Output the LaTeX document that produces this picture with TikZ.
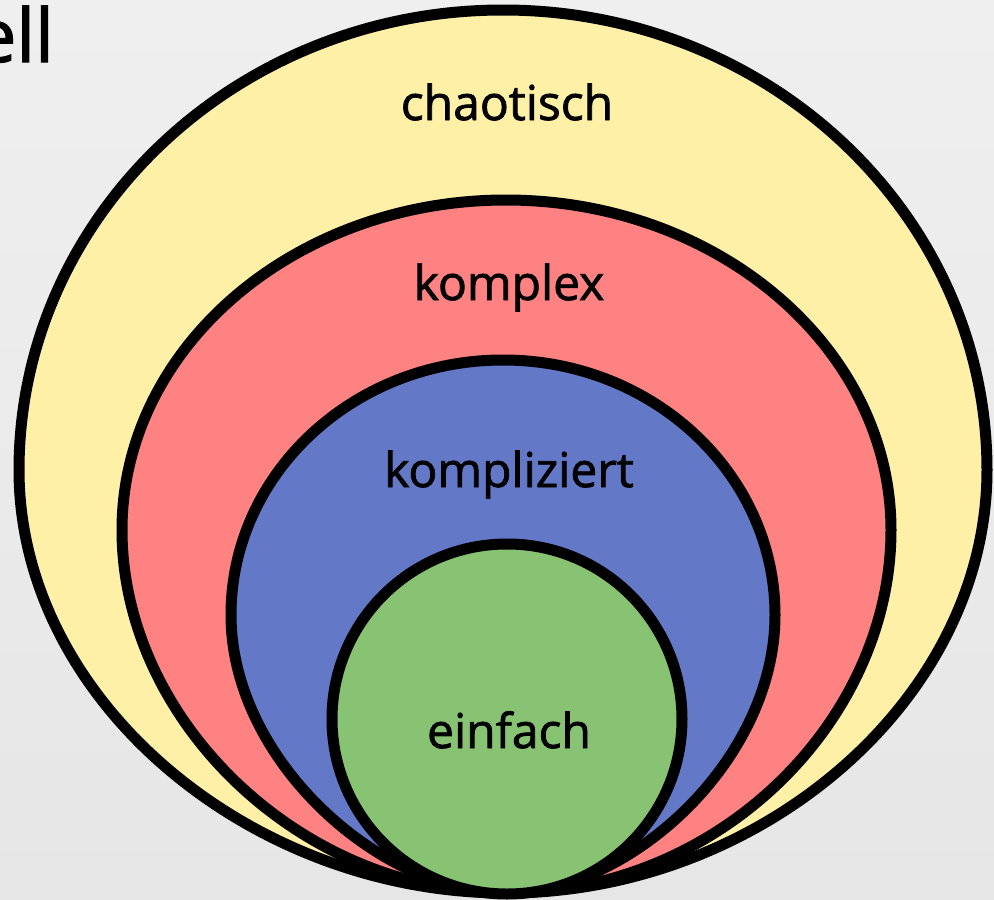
\documentclass[tikz,border=0pt]{standalone}
\usepackage{fontspec}
\setmainfont{Open Sans}
\newfontfamily\handfont[FakeBold=1.6]{Open Sans}
\definecolor{bgtop}{HTML}{EFEFEF}
\definecolor{bgbot}{HTML}{E6E6E6}
\definecolor{yellowfill}{HTML}{FFF0A8}
\definecolor{redfill}{HTML}{FF8282}
\definecolor{bluefill}{HTML}{6478C8}
\definecolor{greenfill}{HTML}{88C374}
\begin{document}
\begin{tikzpicture}[x=1pt,y=-1pt,
  shapeline/.style={draw=black, line width=11pt, line join=round},
  lbl/.style={anchor=base, font=\handfont\fontsize{48}{58}\selectfont, text=black, inner sep=0pt}]
\useasboundingbox (0,0) rectangle (994,900);
\shade[top color=bgtop, bottom color=bgbot] (0,0) rectangle (994,900);
\coordinate (B) at (506,893);
% chaotisch
\draw[shapeline, fill=yellowfill] (B) .. controls (250,893) and (19,700) .. (19,470)
  .. controls (19,216) and (236,10) .. (503,10)
  .. controls (770,10) and (987,216) .. (987,470)
  .. controls (987,700) and (760,893) .. (B) -- cycle;
% komplex
\draw[shapeline, fill=redfill] (B) .. controls (300,893) and (122,720) .. (122,530)
  .. controls (122,348) and (294,200) .. (506,200)
  .. controls (718,200) and (891,348) .. (891,530)
  .. controls (891,720) and (720,893) .. (B) -- cycle;
% kompliziert
\draw[shapeline, fill=bluefill] (B) .. controls (380,893) and (231,760) .. (231,615)
  .. controls (231,474) and (353,360) .. (503,360)
  .. controls (653,360) and (775,474) .. (775,615)
  .. controls (775,760) and (630,893) .. (B) -- cycle;
% einfach
\draw[shapeline, fill=greenfill] (507,719) circle[radius=175];
\node[lbl] (chaotisch) at (507,120) {chaotisch};
\node[lbl] (komplex) at (509,300) {komplex};
\node[lbl] (kompliziert) at (509,487) {kompliziert};
\node[lbl] (einfach) at (509,748) {einfach};
\node[anchor=base east, inner sep=0pt, font=\handfont\fontsize{74}{88}\selectfont] (title) at (54,62) {ell};
\end{tikzpicture}
\end{document}
